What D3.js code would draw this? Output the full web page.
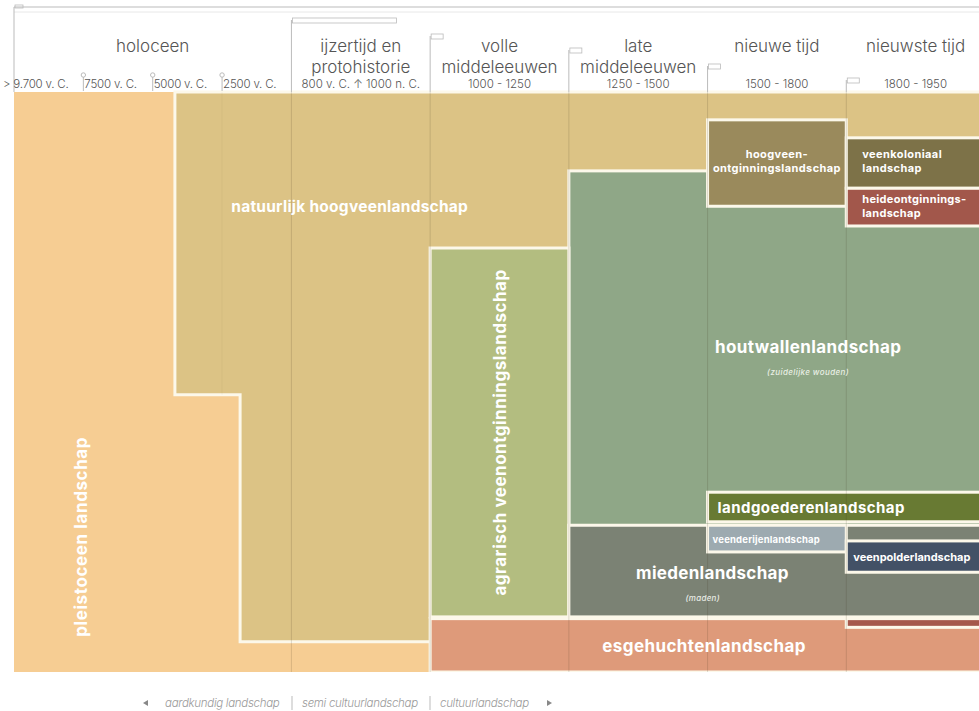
<!DOCTYPE html>
<meta charset="utf-8">
<html>
<head>
<title>Landschapstypen door de tijd</title>
<style>
    *{ margin:0; padding:0;}
    body{ background:#fff; font-family:Inter, 'Noto Sans', sans-serif;}
</style>
<script src="https://cdn.jsdelivr.net/npm/d3@7"></script>
</head>
<body>
<div id="chartContainer"></div>
<script>
    // periods (column units: holoceen = 4 sub columns, other periods 2 each)
    var periodNames = [["holoceen"], ["ijzertijd en", "protohistorie"], ["volle", "middeleeuwen"],
                       ["late", "middeleeuwen"], ["nieuwe tijd"], ["nieuwste tijd"]];
    var periodStart = [0, 4, 6, 8, 10, 12];
    var periodEnd   = [4, 6, 8, 10, 12, 14];
    var periodDates = ["", "800 v. C. \u2191 1000 n. C.", "1000 - 1250", "1250 - 1500", "1500 - 1800", "1800 - 1950"];
    var holoTicks   = [0, 1, 2, 3];
    var holoLabels  = ["> 9.700 v. C.", "7500 v. C.", "5000 v. C.", "2500 v. C."];
    var legendItems = ["aardkundig landschap", "semi cultuurlandschap", "cultuurlandschap"];

    // landscapes: start/end column, top/bottom level (% of the chart height)
    var lsNames  = ["pleistoceen landschap", "natuurlijk hoogveenlandschap", "houtwallenlandschap",
                    "agrarisch veenontginningslandschap", "hoogveen-ontginningslandschap", "veenkoloniaal landschap",
                    "heideontginningslandschap", "miedenlandschap", "landgoederenlandschap",
                    "veenderijenlandschap", "veenpolderlandschap", "esgehuchtenlandschap", "heide (strook)"];
    var lsStart  = [0, 2.32, 8, 6, 10, 12, 12, 8, 10, 10, 12, 6, 12];
    var lsEnd    = [6, 14, 14, 8, 12, 14, 14, 14, 14, 12, 14, 14, 14];
    var lsTop    = [0, 0, 13.6, 26.9, 4.8, 7.9, 16.6, 74.7, 69.0, 74.7, 77.4, 90.8, 90.8];
    var lsBottom = [100, 94.8, 90.5, 90.5, 19.7, 16.6, 23.1, 90.5, 74.1, 79.3, 82.8, 100, 92.3];
    // natural peat steps down: left edge column until the step level, then the second column
    var stepLevel = 52.2, stepCol = 3.26;
    var lsColors = ["#F6CD93", "#DCC385", "#8FA787", "#B3BD80", "#9A8A5C", "#7D7248",
                    "#A2574B", "#7B8274", "#687A33", "#9DAAB0", "#435166", "#DE9A7A", "#A5584B"];

    var W = 979, H = 711;
    var svg = d3.select("#chartContainer").append("svg").attr("width", W).attr("height", H);

    var x = d3.scaleLinear().domain([0, 14]).range([14, 985]);
    var y = d3.scaleLinear().domain([0, 100]).range([92, 672]);
    var stroke = "#FCF8EA";

    var plot = svg.append("g");
    plot.append("clipPath").attr("id", "clip").append("rect")
        .attr("x", x(0)).attr("y", y(0) - 2).attr("width", W - x(0)).attr("height", y(100) - y(0) + 2);
    var marks = plot.append("g").attr("clip-path", "url(#clip)");

    lsNames.forEach(function (n, i) {
        if (i == 1) {
            var pts = [[lsStart[1], 0], [14.5, 0], [14.5, lsBottom[1]], [stepCol, lsBottom[1]],
                       [stepCol, stepLevel], [lsStart[1], stepLevel]];
            marks.append("path")
                .attr("d", d3.line().x(function (p) { return x(p[0]); }).y(function (p) { return y(p[1]); })(pts) + "Z")
                .attr("fill", lsColors[i]).attr("stroke", stroke).attr("stroke-width", 3);
        } else {
            var right = lsEnd[i] >= 14 ? 14.5 : lsEnd[i];
            marks.append("rect")
                .attr("x", x(lsStart[i])).attr("y", y(lsTop[i]))
                .attr("width", x(right) - x(lsStart[i])).attr("height", y(lsBottom[i]) - y(lsTop[i]))
                .attr("fill", lsColors[i])
                .attr("stroke", i == 0 ? "none" : stroke).attr("stroke-width", 3);
        }
    });

    // faint period grid lines over the colours
    marks.selectAll(".grid").data(periodStart.slice(1)).enter().append("line")
        .attr("x1", function (d) { return x(d); }).attr("x2", function (d) { return x(d); })
        .attr("y1", y(0)).attr("y2", y(100))
        .attr("stroke", "rgba(60,50,30,0.16)").attr("stroke-width", 1);
    marks.append("line").attr("x1", x(3)).attr("x2", x(3)).attr("y1", y(0)).attr("y2", y(stepLevel))
        .attr("stroke", "rgba(60,50,30,0.04)");

    // labels
    var lab = plot.append("g").attr("fill", "#fff").attr("font-weight", 700).attr("font-family", "Inter, sans-serif");
    function cx(i) { return (x(lsStart[i]) + x(Math.min(lsEnd[i], 14))) / 2; }
    function cy(i) { return (y(lsTop[i]) + y(lsBottom[i])) / 2; }
    function txt(t, px, py, size, sp, anchor) {
        return lab.append("text").attr("x", px).attr("y", py).attr("font-size", size)
            .attr("letter-spacing", sp).attr("text-anchor", anchor || "middle").text(t);
    }
    function rot(t, px, py, size, sp) {
        return lab.append("text").attr("transform", "translate(" + px + "," + py + ") rotate(-90)")
            .attr("font-size", size).attr("letter-spacing", sp).attr("text-anchor", "middle").text(t);
    }

    rot(lsNames[0], x(1) - 2 + 6, y(76.7), 17, 0.6);
    rot(lsNames[3], cx(3) + 6, cy(3), 17, 0.5);
    txt(lsNames[1], x(4.84), 212, 15.5, 0.25);
    txt(lsNames[2], x(11.45), 353, 17, 0.4);
    txt("(zuidelijke wouden)", x(11.45), 375, 8, 0.4).attr("font-style", "italic").attr("font-weight", 500).attr("fill", "#e9efe4");
    txt("hoogveen-", cx(4), cy(4) - 5, 11, 0.4);
    txt("ontginningslandschap", cx(4), cy(4) + 9, 11, 0.4);
    txt("veenkoloniaal", x(12) + 16, cy(5) - 5, 11, 0.4, "start");
    txt("landschap", x(12) + 16, cy(5) + 9, 11, 0.4, "start");
    txt("heideontginnings-", x(12) + 16, cy(6) - 4, 11, 0.3, "start");
    txt("landschap", x(12) + 16, cy(6) + 10, 11, 0.3, "start");
    txt(lsNames[8], x(10) + 10, cy(8) + 6, 15, 0.45, "start");
    txt(lsNames[9], x(10) + 5, y(77.1) + 4, 9.5, 0.2, "start");
    txt(lsNames[10], x(12) + 7, cy(10) + 4, 11, 0, "start");
    txt(lsNames[7], x(10.07), 579, 17, 0.3);
    txt("(maden)", x(9.93), 601, 8, 0.3).attr("font-style", "italic").attr("font-weight", 500).attr("fill", "#e9ece6");
    txt(lsNames[11], x(9.95), 652, 17, 0.4);

    // header
    var head = svg.append("g").attr("fill", "#555").attr("font-family", "Inter, sans-serif").attr("font-weight", 300);
    head.append("line").attr("x1", x(0)).attr("x2", W).attr("y1", 7).attr("y2", 7).attr("stroke", "#ddd").attr("stroke-width", 2);
    head.append("line").attr("x1", x(0)).attr("x2", W).attr("y1", 12).attr("y2", 12).attr("stroke", "#e8e8e8");
    head.append("line").attr("x1", x(0)).attr("x2", x(0)).attr("y1", 7).attr("y2", y(0)).attr("stroke", "#bbb");
    head.append("rect").attr("x", x(0) + 1).attr("y", 5).attr("width", 8).attr("height", 3)
        .attr("fill", "none").attr("stroke", "#bbb").attr("stroke-width", 0.8);
    var sepTop = [20, 36, 50, 66, 80];
    periodStart.slice(1).forEach(function (s, i) {
        head.append("line").attr("x1", x(s)).attr("x2", x(s)).attr("y1", sepTop[i]).attr("y2", y(0))
            .attr("stroke", "#bbb");
        var bw = i == 0 ? 104 : 12;
        head.append("rect").attr("x", x(s) + 1).attr("y", sepTop[i] - 2).attr("width", bw).attr("height", 5)
            .attr("fill", "none").attr("stroke", "#bbb").attr("stroke-width", 0.8);
    });
    holoTicks.slice(1).forEach(function (t) {
        head.append("line").attr("x1", x(t)).attr("x2", x(t)).attr("y1", 77).attr("y2", 91).attr("stroke", "#bbb");
        head.append("circle").attr("cx", x(t)).attr("cy", 75).attr("r", 2.2).attr("fill", "none").attr("stroke", "#bbb");
    });
    periodNames.forEach(function (lines, i) {
        var mx = (x(periodStart[i]) + x(periodEnd[i])) / 2;
        lines.forEach(function (l, j) {
            head.append("text").attr("x", mx).attr("y", 52 + j * 21).attr("text-anchor", "middle")
                .attr("font-size", 17).text(l);
        });
        if (periodDates[i]) {
            head.append("text").attr("x", mx).attr("y", 88).attr("text-anchor", "middle")
                .attr("font-size", 11.5).text(periodDates[i]);
        }
    });
    holoLabels.forEach(function (l, i) {
        head.append("text").attr("x", i == 0 ? 3 : x(holoTicks[i]) + 1).attr("y", 88)
            .attr("font-size", 11.5).attr("letter-spacing", -0.2).text(l);
    });

    // bottom legend
    var leg = svg.append("g").attr("fill", "#9a9a9a").attr("font-style", "italic").attr("font-weight", 300)
        .attr("font-family", "Inter, sans-serif").attr("font-size", 11.5);
    var legX = [165, 302, 440];
    leg.append("path").attr("d", "M143,703 l5,-3 v6 Z").attr("fill", "#888");
    legendItems.forEach(function (t, i) {
        leg.append("text").attr("x", legX[i]).attr("y", 707).attr("letter-spacing", -0.3).text(t);
        if (i < legendItems.length - 1)
            leg.append("line").attr("x1", legX[i + 1] - 10).attr("x2", legX[i + 1] - 10)
                .attr("y1", 696).attr("y2", 710).attr("stroke", "#bbb").attr("stroke-width", 1);
    });
    leg.append("path").attr("d", "M552,703 l-5,-3 v6 Z").attr("fill", "#888");
</script>
</body>
</html>
